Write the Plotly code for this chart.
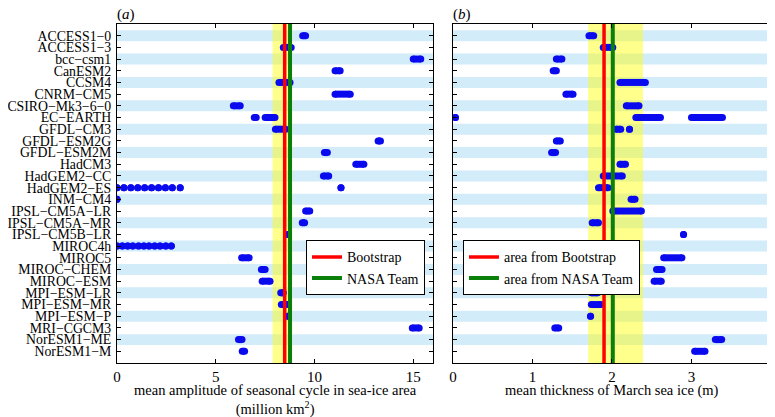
import plotly.graph_objects as go

models = ["ACCESS1−0", "ACCESS1−3", "bcc−csm1", "CanESM2", "CCSM4", "CNRM−CM5",
          "CSIRO−Mk3−6−0", "EC−EARTH", "GFDL−CM3", "GFDL−ESM2G", "GFDL−ESM2M",
          "HadCM3", "HadGEM2−CC", "HadGEM2−ES", "INM−CM4", "IPSL−CM5A−LR",
          "IPSL−CM5A−MR", "IPSL−CM5B−LR", "MIROC4h", "MIROC5", "MIROC−CHEM",
          "MIROC−ESM", "MPI−ESM−LR", "MPI−ESM−MR", "MPI−ESM−P", "MRI−CGCM3",
          "NorESM1−ME", "NorESM1−M"]

# (low, high) ranges per model; single points have low == high
area_ranges = [
    [(9.40, 9.55)],
    [(8.42, 8.82)],
    [(15.00, 15.38)],
    [(11.04, 11.30)],
    [(8.20, 8.76)],
    [(11.04, 11.81)],
    [(5.89, 6.24)],
    [(6.95, 7.05), (7.50, 8.00)],
    [(8.02, 8.54)],
    [(13.22, 13.34)],
    [(10.50, 10.65)],
    [(12.09, 12.50)],
    [(10.45, 10.72)],
    [(0.0, 0.0), (0.35, 0.35), (0.70, 0.70), (1.05, 1.05), (1.40, 1.40),
     (1.75, 1.75), (2.10, 2.10), (2.45, 2.45), (2.80, 2.80), (3.20, 3.20),
     (11.34, 11.34)],
    [(0.0, 0.0)],
    [(9.55, 9.76)],
    [(9.38, 9.50)],
    [(8.67, 8.67)],
    [(0.0, 0.0), (0.27, 0.27), (0.54, 0.54), (0.80, 0.80), (1.09, 1.09),
     (1.36, 1.36), (1.62, 1.62), (1.91, 1.91), (2.18, 2.18), (2.47, 2.47),
     (2.75, 2.75)],
    [(6.31, 6.69)],
    [(7.31, 7.50)],
    [(7.35, 7.75)],
    [(8.29, 8.42)],
    [(8.32, 8.62)],
    [(8.66, 8.66)],
    [(14.95, 15.30)],
    [(6.15, 6.33)],
    [(6.34, 6.46)],
]

thick_ranges = [
    [(1.71, 1.77)],
    [(1.89, 2.01)],
    [(1.30, 1.37)],
    [(1.26, 1.30)],
    [(2.10, 2.42)],
    [(1.42, 1.51)],
    [(2.18, 2.34)],
    [(0.03, 0.03), (2.30, 2.61), (3.00, 3.39)],
    [(2.05, 2.11), (2.22, 2.22)],
    [(1.30, 1.35)],
    [(1.24, 1.29)],
    [(2.10, 2.17)],
    [(1.89, 2.13)],
    [(1.83, 1.95)],
    [(2.24, 2.29)],
    [(2.01, 2.37)],
    [(1.75, 1.83)],
    [(2.90, 2.90)],
    [],
    [(2.65, 2.88)],
    [(2.56, 2.63)],
    [(2.53, 2.62)],
    [(1.74, 1.82)],
    [(1.74, 1.86)],
    [(1.73, 1.73)],
    [(1.28, 1.33)],
    [(3.30, 3.38)],
    [(3.04, 3.17)],
]

area_obs = {"Bootstrap": 8.49, "NASA Team": 8.76}
area_band = (7.88, 8.87)
thick_obs = {"area from Bootstrap": 1.90, "area from NASA Team": 2.01}
thick_band = (1.70, 2.39)

area_ticks = [0, 5, 10, 15]
thick_ticks = [0, 1, 2, 3, 4]

FONT = "Liberation Serif"
BLUE = "#0a0aee"
STRIPE = "#d3ecf9"
n = len(models)
rows = list(range(1, n + 1))

fig = go.Figure()


def seg_xy(ranges_list):
    xs, ys = [], []
    for r, rngs in zip(rows, ranges_list):
        for lo, hi in rngs:
            xs += [lo, hi, None]
            ys += [r, r, None]
    return xs, ys


for xa, ya, ranges_list in (("x", "y", area_ranges), ("x2", "y2", thick_ranges)):
    xs, ys = seg_xy(ranges_list)
    fig.add_trace(go.Scatter(x=xs, y=ys, mode="lines+markers", xaxis=xa, yaxis=ya,
                             line=dict(color=BLUE, width=7),
                             marker=dict(color=BLUE, size=7, line=dict(width=0)),
                             showlegend=False, hoverinfo="skip"))

obs_colors = ["#ff0000", "#0a800a"]
obs_widths = [3.5, 4]
for (name, v), c, w in zip(area_obs.items(), obs_colors, obs_widths):
    fig.add_trace(go.Scatter(x=[v, v], y=[0, n + 1], mode="lines", name=name,
                             xaxis="x", yaxis="y", line=dict(color=c, width=w),
                             legend="legend"))
for (name, v), c, w in zip(thick_obs.items(), obs_colors, obs_widths):
    fig.add_trace(go.Scatter(x=[v, v], y=[0, n + 1], mode="lines", name=name,
                             xaxis="x2", yaxis="y2", line=dict(color=c, width=w),
                             legend="legend2"))

shapes = []
for xd, yr in (("x domain", "y"), ("x2 domain", "y2")):
    for r in rows:
        if r % 2 == 1:
            shapes.append(dict(type="rect", xref=xd, yref=yr, x0=0, x1=1,
                               y0=r - 0.47, y1=r + 0.47, fillcolor=STRIPE,
                               line=dict(width=0), layer="below"))
for xr, yd, band in (("x", "y domain", area_band), ("x2", "y2 domain", thick_band)):
    shapes.append(dict(type="rect", xref=xr, yref=yd, x0=band[0], x1=band[1],
                       y0=0, y1=1, fillcolor="rgba(255,255,0,0.45)",
                       line=dict(width=0), layer="below"))

axis_common = dict(showline=True, linecolor="black", linewidth=1, mirror="ticks",
                   ticks="inside", ticklen=4, tickcolor="black", showgrid=False,
                   zeroline=False, automargin=False)

fig.update_layout(
    # page body has an 8px margin; figure is sized so it fills to the window edge
    width=767, height=409,
    margin=dict(l=109, r=4, t=16, b=54),
    paper_bgcolor="white", plot_bgcolor="white",
    font=dict(family=FONT, color="black"),
    shapes=shapes,
    xaxis=dict(domain=[0, 0.4832], range=[0, 16], tickvals=area_ticks, anchor="y",
               tickfont=dict(family=FONT, size=15, color="black"), **axis_common),
    xaxis2=dict(domain=[0.5138, 1], range=[0, 4.0005], tickvals=thick_ticks, anchor="y2",
                ticklabeloverflow="allow",
                tickfont=dict(family=FONT, size=15, color="black"), **axis_common),
    yaxis=dict(range=[n + 1, 0], tickvals=rows, ticktext=models, anchor="x",
               ticklabelstandoff=2, tickfont=dict(family=FONT, size=13.8, color="black"),
               **axis_common),
    yaxis2=dict(range=[n + 1, 0], tickvals=rows, showticklabels=False, anchor="x2",
                **axis_common),
    legend=dict(x=0.289, y=0.362, xanchor="left", yanchor="top",
                bgcolor="white", bordercolor="black", borderwidth=1,
                font=dict(family=FONT, size=14, color="black"), tracegroupgap=0,
                itemwidth=30),
    legend2=dict(x=0.529, y=0.362, xanchor="left", yanchor="top",
                 bgcolor="white", bordercolor="black", borderwidth=1,
                 font=dict(family=FONT, size=14, color="black"), tracegroupgap=0,
                 itemwidth=30),
    annotations=[
        dict(text="(<i>a</i>)", xref="x domain", yref="paper", x=-0.005, y=1.029,
             xanchor="left", yanchor="middle", showarrow=False,
             font=dict(family=FONT, size=15)),
        dict(text="(<i>b</i>)", xref="x2 domain", yref="paper", x=-0.005, y=1.029,
             xanchor="left", yanchor="middle", showarrow=False,
             font=dict(family=FONT, size=15)),
        dict(text="mean amplitude of seasonal cycle in sea-ice area<br>(million km<sup>2</sup>)",
             xref="x domain", yref="paper", x=0.5, y=-0.05, xanchor="center",
             yanchor="top", showarrow=False, font=dict(family=FONT, size=14.5)),
        dict(text="mean thickness of March sea ice (m)",
             xref="x2 domain", yref="paper", x=0.5, y=-0.05, xanchor="center",
             yanchor="top", showarrow=False, font=dict(family=FONT, size=14.5)),
    ],
)

fig.write_html("out.html")
